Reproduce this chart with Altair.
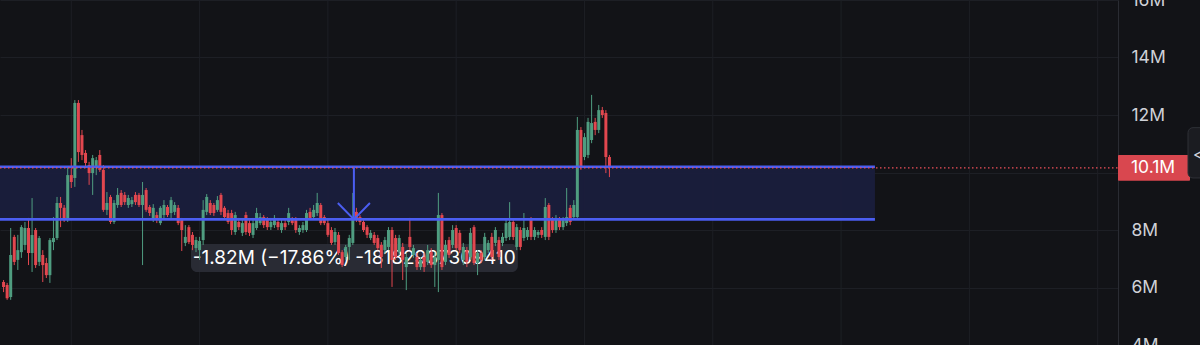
import altair as alt
import pandas as pd

# ---- data (values in millions) ----
opens = [6.19, 6.09, 5.67, 7.76, 6.96, 7.23, 7.48, 8.07, 7.20, 8.00, 6.89, 7.13, 6.85, 6.43, 7.58, 7.72, 8.94, 8.77, 8.35, 9.91,
         9.81, 12.42, 11.30, 10.68, 10.26, 9.98, 10.19, 10.61, 10.09, 8.70, 9.15, 8.28, 8.87, 9.29, 9.22, 8.87, 8.90, 9.22, 9.22, 8.87,
         9.39, 8.80, 8.35, 8.52, 8.24, 8.52, 8.80, 8.59, 8.63, 8.77, 8.35, 7.55, 8.10, 7.83, 7.37, 7.30, 7.65, 8.63, 8.94, 8.87,
         8.70, 9.22, 8.77, 8.59, 8.59, 7.93, 8.28, 7.90, 8.52, 8.24, 7.83, 8.07, 8.24, 8.45, 8.35, 8.10, 8.17, 8.28, 8.00, 8.24,
         8.28, 8.35, 8.35, 7.93, 8.00, 8.00, 8.63, 8.45, 8.59, 8.87, 8.45, 8.24, 8.00, 7.58, 7.83, 7.23, 7.06, 7.41, 7.55, 8.63,
         8.45, 8.28, 8.10, 7.72, 7.83, 7.72, 7.48, 7.30, 7.41, 8.00, 7.72, 7.23, 7.41, 6.71, 7.76, 7.13, 7.06, 6.71, 7.06, 6.89,
         7.23, 6.78, 6.96, 8.52, 6.89, 7.65, 7.48, 8.07, 7.90, 6.96, 7.30, 7.06, 8.10, 6.85, 7.20, 7.06, 7.30, 7.76, 7.55, 7.65,
         7.55, 7.72, 7.76, 8.28, 7.41, 8.00, 7.72, 7.76, 8.35, 7.76, 7.83, 8.00, 7.76, 8.87, 8.35, 8.00, 8.35, 8.10, 8.24, 8.77,
         8.45, 8.45, 11.48, 10.54, 10.61, 11.13, 11.76, 11.48, 12.17, 12.07, 10.54]
highs = [6.26, 6.16, 8.07, 7.83, 7.83, 8.17, 8.28, 8.42, 9.11, 8.07, 7.79, 7.30, 7.03, 7.72, 8.45, 9.15, 9.15, 8.87, 10.19, 10.50,
         12.52, 12.52, 11.48, 10.78, 10.37, 10.61, 10.54, 10.78, 10.26, 9.32, 9.22, 9.04, 9.46, 9.39, 9.32, 9.22, 9.15, 9.32, 9.29, 9.67,
         9.46, 8.87, 8.90, 8.63, 8.83, 9.04, 8.87, 9.15, 8.97, 8.87, 8.42, 8.17, 8.17, 7.93, 7.76, 7.76, 9.04, 9.25, 9.04, 8.94,
         9.18, 9.29, 8.83, 8.70, 8.70, 8.63, 8.42, 8.35, 8.63, 8.35, 8.42, 8.77, 8.59, 8.52, 8.45, 8.42, 8.52, 8.42, 8.35, 8.35,
         8.77, 8.45, 8.45, 8.17, 8.28, 8.70, 8.77, 8.87, 9.29, 8.94, 8.52, 8.35, 8.10, 8.07, 7.93, 7.30, 7.48, 7.83, 9.29, 8.77,
         8.52, 8.35, 8.17, 8.00, 7.93, 7.83, 7.58, 7.76, 8.10, 8.10, 7.83, 7.83, 7.55, 7.20, 8.42, 7.48, 7.20, 7.06, 7.20, 7.48,
         7.37, 7.23, 9.29, 8.59, 7.65, 7.76, 8.17, 8.17, 8.00, 7.55, 7.41, 8.07, 8.17, 7.30, 7.30, 7.90, 7.65, 7.90, 8.10, 7.76,
         7.90, 8.35, 8.97, 8.35, 8.21, 8.10, 8.59, 8.10, 8.45, 8.10, 8.00, 8.10, 9.11, 8.94, 8.45, 8.52, 8.45, 8.45, 9.46, 8.87,
         9.04, 11.93, 11.58, 11.37, 11.90, 12.70, 11.90, 12.35, 12.28, 12.17, 10.61]
lows = [5.84, 5.57, 5.57, 6.78, 6.61, 7.03, 7.30, 6.78, 6.54, 6.68, 6.75, 6.19, 6.33, 6.16, 7.30, 7.65, 8.10, 8.28, 8.28, 9.46,
        9.50, 10.37, 10.43, 10.16, 9.57, 9.22, 9.91, 10.02, 8.63, 8.52, 8.21, 8.21, 8.77, 8.80, 8.87, 8.77, 8.80, 8.87, 8.80, 6.78,
        8.63, 8.49, 8.28, 8.24, 8.17, 8.35, 8.45, 8.42, 8.52, 8.17, 7.27, 7.44, 7.51, 7.30, 7.23, 6.96, 7.48, 8.52, 8.52, 8.49,
        8.63, 8.52, 8.35, 8.21, 7.83, 7.83, 8.00, 7.79, 7.83, 7.79, 7.72, 8.00, 8.17, 8.07, 8.00, 8.00, 8.07, 8.00, 7.90, 8.00,
        8.17, 8.17, 7.90, 7.83, 7.90, 7.93, 8.35, 8.35, 8.49, 8.17, 8.17, 7.76, 7.48, 7.48, 7.13, 6.71, 6.96, 6.96, 7.48, 8.28,
        8.17, 7.93, 7.72, 7.65, 7.48, 7.30, 6.68, 7.20, 7.30, 6.02, 6.96, 7.13, 6.26, 5.91, 7.30, 7.03, 6.61, 6.61, 6.54, 6.78,
        6.68, 6.02, 5.84, 6.61, 6.78, 7.03, 7.37, 7.30, 7.20, 6.78, 6.71, 6.96, 6.78, 6.43, 6.85, 6.96, 7.20, 6.96, 7.44, 6.96,
        7.44, 7.62, 7.65, 7.65, 7.30, 7.30, 7.62, 7.65, 7.65, 7.65, 7.72, 7.72, 7.65, 7.65, 7.90, 7.90, 8.00, 8.00, 8.14, 8.17,
        8.35, 8.35, 10.09, 10.43, 10.50, 11.02, 11.30, 11.37, 11.90, 9.98, 9.84]
closes = [6.02, 5.63, 7.13, 6.89, 7.30, 8.10, 8.07, 7.20, 7.83, 6.78, 7.72, 6.78, 6.43, 7.65, 7.72, 8.94, 8.77, 8.35, 9.91, 9.67,
          12.42, 10.71, 10.61, 10.33, 9.98, 10.50, 10.43, 10.09, 8.70, 8.94, 8.28, 8.94, 9.22, 8.87, 8.97, 9.11, 9.04, 8.97, 8.87, 9.22,
          8.70, 8.59, 8.77, 8.35, 8.77, 8.87, 8.52, 9.04, 8.87, 8.24, 8.00, 7.76, 7.58, 7.48, 7.65, 7.62, 8.70, 9.15, 8.59, 8.59,
          9.04, 8.63, 8.45, 8.28, 8.00, 8.52, 8.10, 8.24, 7.93, 7.90, 8.24, 8.59, 8.45, 8.17, 8.10, 8.28, 8.42, 8.10, 8.24, 8.10,
          8.59, 8.24, 8.00, 8.07, 8.17, 8.59, 8.42, 8.70, 8.94, 8.24, 8.24, 7.83, 7.55, 7.93, 7.20, 6.78, 7.41, 7.72, 8.35, 8.35,
          8.28, 8.00, 7.83, 7.90, 7.55, 7.37, 7.06, 7.65, 8.00, 6.96, 7.06, 7.72, 6.96, 7.06, 7.41, 7.37, 6.71, 6.96, 6.71, 7.30,
          6.78, 7.06, 8.52, 6.71, 7.48, 7.13, 8.00, 7.37, 7.30, 7.41, 6.89, 7.90, 6.85, 7.20, 6.96, 7.76, 7.55, 7.06, 8.00, 7.06,
          7.76, 8.24, 8.28, 7.76, 8.10, 7.41, 8.07, 8.00, 7.76, 8.00, 7.93, 7.83, 8.80, 7.76, 8.00, 8.42, 8.10, 8.35, 8.45, 8.28,
          8.87, 11.48, 10.19, 11.23, 11.76, 11.72, 11.48, 12.17, 12.00, 10.54, 10.16]
bars = list(range(1, len(opens) + 1))

y_ticks = [4, 6, 8, 10, 12, 14, 16]
grid_bars = [20, 56, 92, 128, 164, 200, 236, 272, 308]

band_top = 10.20
band_bottom = 8.37
band_start = 0
band_end = 245.5
last_price = 10.16
last_price_label = "10.1M"

arrow_bar = 99.3
arrow_left_bar = 94.8
arrow_right_bar = 103.8
arrow_arm_top = 8.94

measure_text = "-1.82M (\u221217.86%) -18182937309410"
measure_box = {"x": 53.6, "x2": 145.3, "y": 7.51, "y2": 6.54}
measure_text_pos = {"x": 99.4, "y": 7.03}

# ---- style ----
BG = "#121317"
GRID = "#1d1f25"
GREEN = "#4f9d80"
RED = "#e2474f"
BLUE = "#4b5ef2"
BAND = "#1a1e3c"
LABEL_BG = "#2b2e37"

W, H = 1118, 345

xs = alt.Scale(domain=[0, 313.7], nice=False, zero=False, padding=0)
ys = alt.Scale(domain=[4, 16], nice=False, zero=False, padding=0)
y_axis = alt.Axis(orient="right", values=y_ticks,
                  labelExpr="datum.value == 10 ? '' : datum.value + 'M'", title="")


def X(f):
    return alt.X(f, type="quantitative", scale=xs, axis=None)


def Y(f):
    return alt.Y(f, type="quantitative", scale=ys, axis=y_axis)


candles = pd.DataFrame({"bar": bars, "open": opens, "high": highs, "low": lows, "close": closes})
cond = alt.condition("datum.close >= datum.open", alt.value(GREEN), alt.value(RED))

grid = alt.Chart(pd.DataFrame({"g": grid_bars})).mark_rule(color=GRID, strokeWidth=1).encode(
    x=X("g"), y=alt.value(0), y2=alt.value(H))

band_df = pd.DataFrame({"x": [band_start], "x2": [band_end], "top": [band_top], "bottom": [band_bottom]})
band = alt.Chart(band_df).mark_rect(color=BAND, opacity=0.95).encode(
    x=X("x"), x2="x2", y=Y("top"), y2="bottom")

box_df = pd.DataFrame([measure_box])
box = alt.Chart(box_df).mark_rect(color=LABEL_BG, opacity=0.92, cornerRadius=6).encode(
    x=X("x"), x2="x2", y=Y("y"), y2="y2")

txt_df = pd.DataFrame([{"x": measure_text_pos["x"], "y": measure_text_pos["y"], "t": measure_text}])
mtext = alt.Chart(txt_df).mark_text(color="#ffffff", font="Inter", fontSize=19, align="center",
                                     baseline="middle").encode(x=X("x"), y=Y("y"), text="t:N")

wicks = alt.Chart(candles).mark_rule(strokeWidth=1).encode(
    x=X("bar"), y=Y("low"), y2="high", color=cond)
bodies = alt.Chart(candles).mark_bar(size=3).encode(
    x=X("bar"), y=Y("open"), y2="close", color=cond)

lines_df = pd.DataFrame({"x": [band_start, band_start], "x2": [band_end, band_end], "y": [band_top, band_bottom]})
band_lines = alt.Chart(lines_df).mark_rule(color=BLUE, strokeWidth=2.6).encode(
    x=X("x"), x2="x2", y=Y("y"))

arrow_df = pd.DataFrame({
    "x": [arrow_bar, arrow_left_bar, arrow_right_bar],
    "x2": [arrow_bar, arrow_bar, arrow_bar],
    "y": [band_top, arrow_arm_top, arrow_arm_top],
    "y2": [band_bottom, band_bottom, band_bottom],
})
arrow = alt.Chart(arrow_df).mark_rule(color=BLUE, strokeWidth=2).encode(
    x=X("x"), x2="x2", y=Y("y"), y2="y2")

price_df = pd.DataFrame({"p": [last_price], "hi": [last_price + 0.45], "lo": [last_price - 0.45],
                         "t": [last_price_label]})
price_line = alt.Chart(price_df).mark_rule(color="#f0505a", strokeWidth=1.3, strokeDash=[1.5, 2.5]).encode(
    x=alt.value(0), x2=alt.value(W), y=Y("p"))
price_box = alt.Chart(price_df).mark_rect(color="#d9474f", cornerRadius=1).encode(
    x=alt.value(W), x2=alt.value(1190), y=Y("hi"), y2="lo")
price_text = alt.Chart(price_df).mark_text(color="#ffffff", font="Inter", fontSize=17.5, align="left",
                                           baseline="middle").encode(x=alt.value(1131), y=Y("p"), text="t:N")

tab_df = pd.DataFrame({"hi": [11.56], "lo": [9.81], "mid": [10.61], "t": ["<"]})
tab = alt.Chart(tab_df).mark_rect(color="#1b1c21", stroke="#2e3036", strokeWidth=1, cornerRadius=5).encode(
    x=alt.value(1188), x2=alt.value(1212), y=Y("hi"), y2="lo")
tab_text = alt.Chart(tab_df).mark_text(color="#d1d4dc", font="Inter", fontSize=15, align="left",
                                       baseline="middle").encode(x=alt.value(1193), y=Y("mid"), text="t:N")

chart = alt.layer(
    grid, band, box, mtext, wicks, bodies, band_lines, arrow, price_line, price_box, price_text, tab, tab_text
).properties(
    width=W, height=H,
    padding={"left": 0, "top": 0, "right": 1200 - W, "bottom": 0},
    autosize=alt.AutoSizeParams(type="none"),
    background=BG,
).configure_view(strokeWidth=0).configure_axis(
    gridColor=GRID, gridWidth=1, domainColor="#2a2c33", domainWidth=1, ticks=False,
    labelFont="Inter", labelFontSize=17.5, labelColor="#cfd1d7", labelPadding=13,
    labelAlign="left", labelBaseline="middle", labelBound=False, labelOverlap=False, labelFlush=False,
)

chart.save("out.html", embed_options={"renderer": "svg", "actions": False})
